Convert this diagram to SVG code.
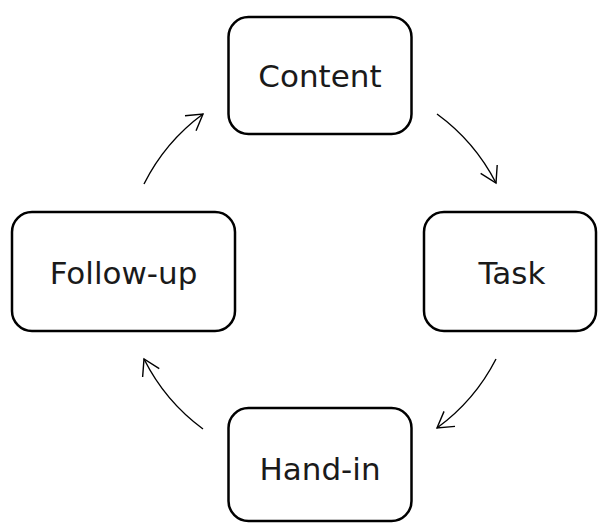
<svg xmlns="http://www.w3.org/2000/svg" width="599" height="524" viewBox="0 0 599 524">
  <defs>
    <style>
      .box { fill: #ffffff; stroke: #000000; stroke-width: 2.5; }
      .label { font-family: "DejaVu Sans", "Liberation Sans", sans-serif; font-size: 31px; fill: #1a1a1a; text-anchor: middle; }
      .conn { fill: none; stroke: #000000; stroke-width: 1.4; }
    </style>
    <marker id="arrow" markerUnits="userSpaceOnUse" markerWidth="40" markerHeight="40" viewBox="-20 -20 40 40" refX="0" refY="0" orient="auto">
      <path d="M-15.5,-9.3 L0,0 L-15.5,9.3" fill="none" stroke="#000000" stroke-width="1.4"/>
    </marker>
  </defs>
  <rect width="599" height="524" fill="#ffffff"/>
  <g id="connectors">
    <path class="conn" d="M437,114 A196,196 0 0 1 496,183" marker-end="url(#arrow)"/>
    <path class="conn" d="M496,359 A196,196 0 0 1 437,428" marker-end="url(#arrow)"/>
    <path class="conn" d="M203,429 A196,196 0 0 1 144,359" marker-end="url(#arrow)"/>
    <path class="conn" d="M144,184 A196,196 0 0 1 203,114" marker-end="url(#arrow)"/>
  </g>
  <g id="content">
    <rect class="box" x="228.5" y="17" width="183" height="117" rx="20"/>
    <text class="label" x="320" y="87">Content</text>
  </g>
  <g id="task">
    <rect class="box" x="424" y="212" width="172" height="119" rx="20"/>
    <text class="label" x="512" y="284">Task</text>
  </g>
  <g id="hand-in">
    <rect class="box" x="228.5" y="408" width="183" height="113" rx="20"/>
    <text class="label" x="320" y="480">Hand-in</text>
  </g>
  <g id="follow-up">
    <rect class="box" x="12" y="212" width="223" height="119" rx="20"/>
    <text class="label" x="123.5" y="284">Follow-up</text>
  </g>
</svg>
